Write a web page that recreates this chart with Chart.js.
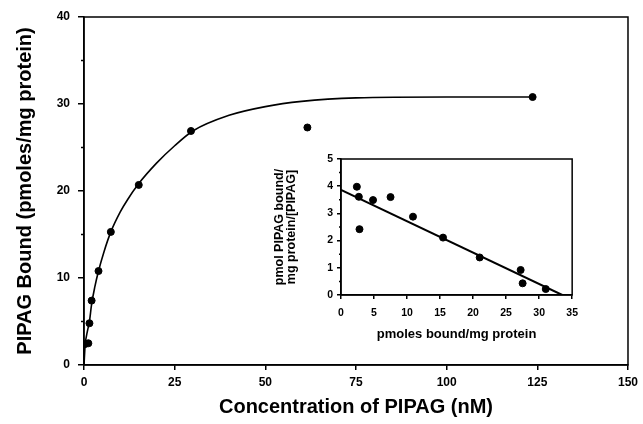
<!DOCTYPE html>
<html lang="en">
<head>
<meta charset="UTF-8">
<title>PIPAG binding</title>
<script src="https://cdn.jsdelivr.net/npm/chart.js"></script>
<style>
  body { margin: 0; background: #fff; }
  .janela { position: relative; width: 643px; height: 424px; }
  #grafico { position: absolute; left: 0; top: 0; }
  #inset { position: absolute; left: 265px; top: 145px; }
</style>
</head>
<body>
<div class="janela">
  <canvas id="grafico" width="643" height="424"></canvas>
  <canvas id="inset" width="321" height="200"></canvas>
</div>

<script>
// saturation points
var concPontos = [0.3, 1.2, 1.5, 2.1, 4.0, 7.4, 15.1, 29.5, 61.6, 123.7];
var boundPontos = [2.4, 2.5, 4.8, 7.4, 10.8, 15.3, 20.7, 26.9, 27.3, 30.8];

// fitted saturation curve, traced
var concCurva = [0, 0.3, 1, 1.5, 2.1, 3, 4, 5.5, 7.4, 10, 12, 15, 20, 25, 30, 40, 50, 60, 75, 100, 124];
var boundCurva = [0, 2.2, 4.0, 5.0, 7.0, 9.0, 10.8, 13.0, 15.3, 17.6, 19.0, 20.8, 23.2, 25.2, 26.9, 28.7, 29.7, 30.3, 30.7, 30.8, 30.8];

// scatchard inset
var boundScat = [2.4, 2.7, 2.8, 4.85, 7.5, 10.9, 15.45, 21.0, 27.2, 27.5, 31.0];
var ratioScat = [3.98, 3.61, 2.42, 3.49, 3.6, 2.88, 2.11, 1.38, 0.92, 0.43, 0.22];
var boundReta = [0, 33.5];
var ratioReta = [3.86, 0];

// minor tick positions
var menorY = [5, 15, 25, 35];
var menorYInset = [0.5, 1.5, 2.5, 3.5, 4.5];

var fonte = "'Liberation Sans', Arial, sans-serif";

function pares(xs, ys) {
    var out = [];
    for (var i = 0; i < xs.length; i++) out.push({ x: xs[i], y: ys[i] });
    return out;
}

// box around plot area + small minor ticks on y axis
var moldura = {
    id: 'moldura',
    afterDraw: function (chart, args, opts) {
        var ctx = chart.ctx;
        var a = chart.chartArea;
        ctx.save();
        ctx.strokeStyle = '#000';
        ctx.lineWidth = 1.5;
        ctx.strokeRect(a.left, a.top, a.right - a.left, a.bottom - a.top);
        var ys = chart.scales.y;
        (opts.menor || []).forEach(function (v) {
            var p = ys.getPixelForValue(v);
            ctx.beginPath();
            ctx.moveTo(a.left - opts.tam, p);
            ctx.lineTo(a.left, p);
            ctx.stroke();
        });
        ctx.restore();
    }
};

var cfg_principal = {
    type: 'scatter',
    data: {
        datasets: [{
            type: 'line',
            data: pares(concCurva, boundCurva),
            borderColor: '#000',
            borderWidth: 1.6,
            pointRadius: 0,
            cubicInterpolationMode: 'monotone',
            fill: false
        }, {
            data: pares(concPontos, boundPontos),
            backgroundColor: '#000',
            borderColor: '#000',
            pointRadius: 3.5
        }]
    },
    options: {
        responsive: false,
        animation: false,
        layout: { padding: { top: 17, right: 11, left: 0, bottom: 0 } },
        plugins: {
            legend: { display: false },
            tooltip: { enabled: false },
            moldura: { menor: menorY, tam: 3 }
        },
        scales: {
            x: {
                type: 'linear', min: 0, max: 150,
                ticks: { stepSize: 25, color: '#000', padding: 5, font: { family: fonte, size: 12, weight: 'bold' } },
                grid: { drawOnChartArea: false, tickLength: 5, color: '#000', lineWidth: 1.5 },
                border: { color: '#000', width: 1.5 },
                title: { display: true, text: 'Concentration of PIPAG (nM)', color: '#000', padding: { top: 0, bottom: 5 }, font: { family: fonte, size: 20, weight: 'bold' } },
                afterFit: function (s) { s.height = 59; }
            },
            y: {
                min: 0, max: 40,
                ticks: { stepSize: 10, color: '#000', padding: 8, font: { family: fonte, size: 12, weight: 'bold' } },
                grid: { drawOnChartArea: false, tickLength: 6, color: '#000', lineWidth: 1.5 },
                border: { color: '#000', width: 1.5 },
                title: { display: true, text: 'PIPAG Bound (pmoles/mg protein)', color: '#000', padding: { top: 13, bottom: 0 }, font: { family: fonte, size: 20, weight: 'bold' } },
                afterFit: function (s) { s.width = 84; }
            }
        }
    },
    plugins: [moldura]
};

var cfg_inset = {
    type: 'scatter',
    data: {
        datasets: [{
            type: 'line',
            data: pares(boundReta, ratioReta),
            borderColor: '#000',
            borderWidth: 2,
            pointRadius: 0,
            fill: false
        }, {
            data: pares(boundScat, ratioScat),
            backgroundColor: '#000',
            borderColor: '#000',
            pointRadius: 3.5
        }]
    },
    options: {
        responsive: false,
        animation: false,
        layout: { padding: { top: 14, right: 8, left: 0, bottom: 0 } },
        plugins: {
            legend: { display: false },
            tooltip: { enabled: false },
            moldura: { menor: menorYInset, tam: 2 }
        },
        scales: {
            x: {
                type: 'linear', min: 0, max: 35,
                ticks: { stepSize: 5, color: '#000', padding: 8, font: { family: fonte, size: 10.5, weight: 'bold' } },
                grid: { drawOnChartArea: false, tickLength: 4, color: '#000', lineWidth: 1.5 },
                border: { color: '#000', width: 1.5 },
                title: { display: true, text: 'pmoles bound/mg protein', color: '#000', padding: { top: 0, bottom: 3 }, font: { family: fonte, size: 13, weight: 'bold' } },
                afterFit: function (s) { s.height = 50; }
            },
            y: {
                min: 0, max: 5,
                ticks: { stepSize: 1, color: '#000', padding: 4, font: { family: fonte, size: 10.5, weight: 'bold' } },
                grid: { drawOnChartArea: false, tickLength: 4, color: '#000', lineWidth: 1.5 },
                border: { color: '#000', width: 1.5 },
                title: { display: true, text: ['pmol PIPAG bound/', 'mg protein/[PIPAG]'], color: '#000', padding: { top: 9, bottom: 0 }, font: { family: fonte, size: 12.5, weight: 'bold', lineHeight: 0.92 } },
                afterFit: function (s) { s.width = 76; }
            }
        }
    },
    plugins: [moldura]
};

var grafico_principal = new Chart(document.getElementById('grafico'), cfg_principal);
var grafico_inset = new Chart(document.getElementById('inset'), cfg_inset);
</script>
</body>
</html>
